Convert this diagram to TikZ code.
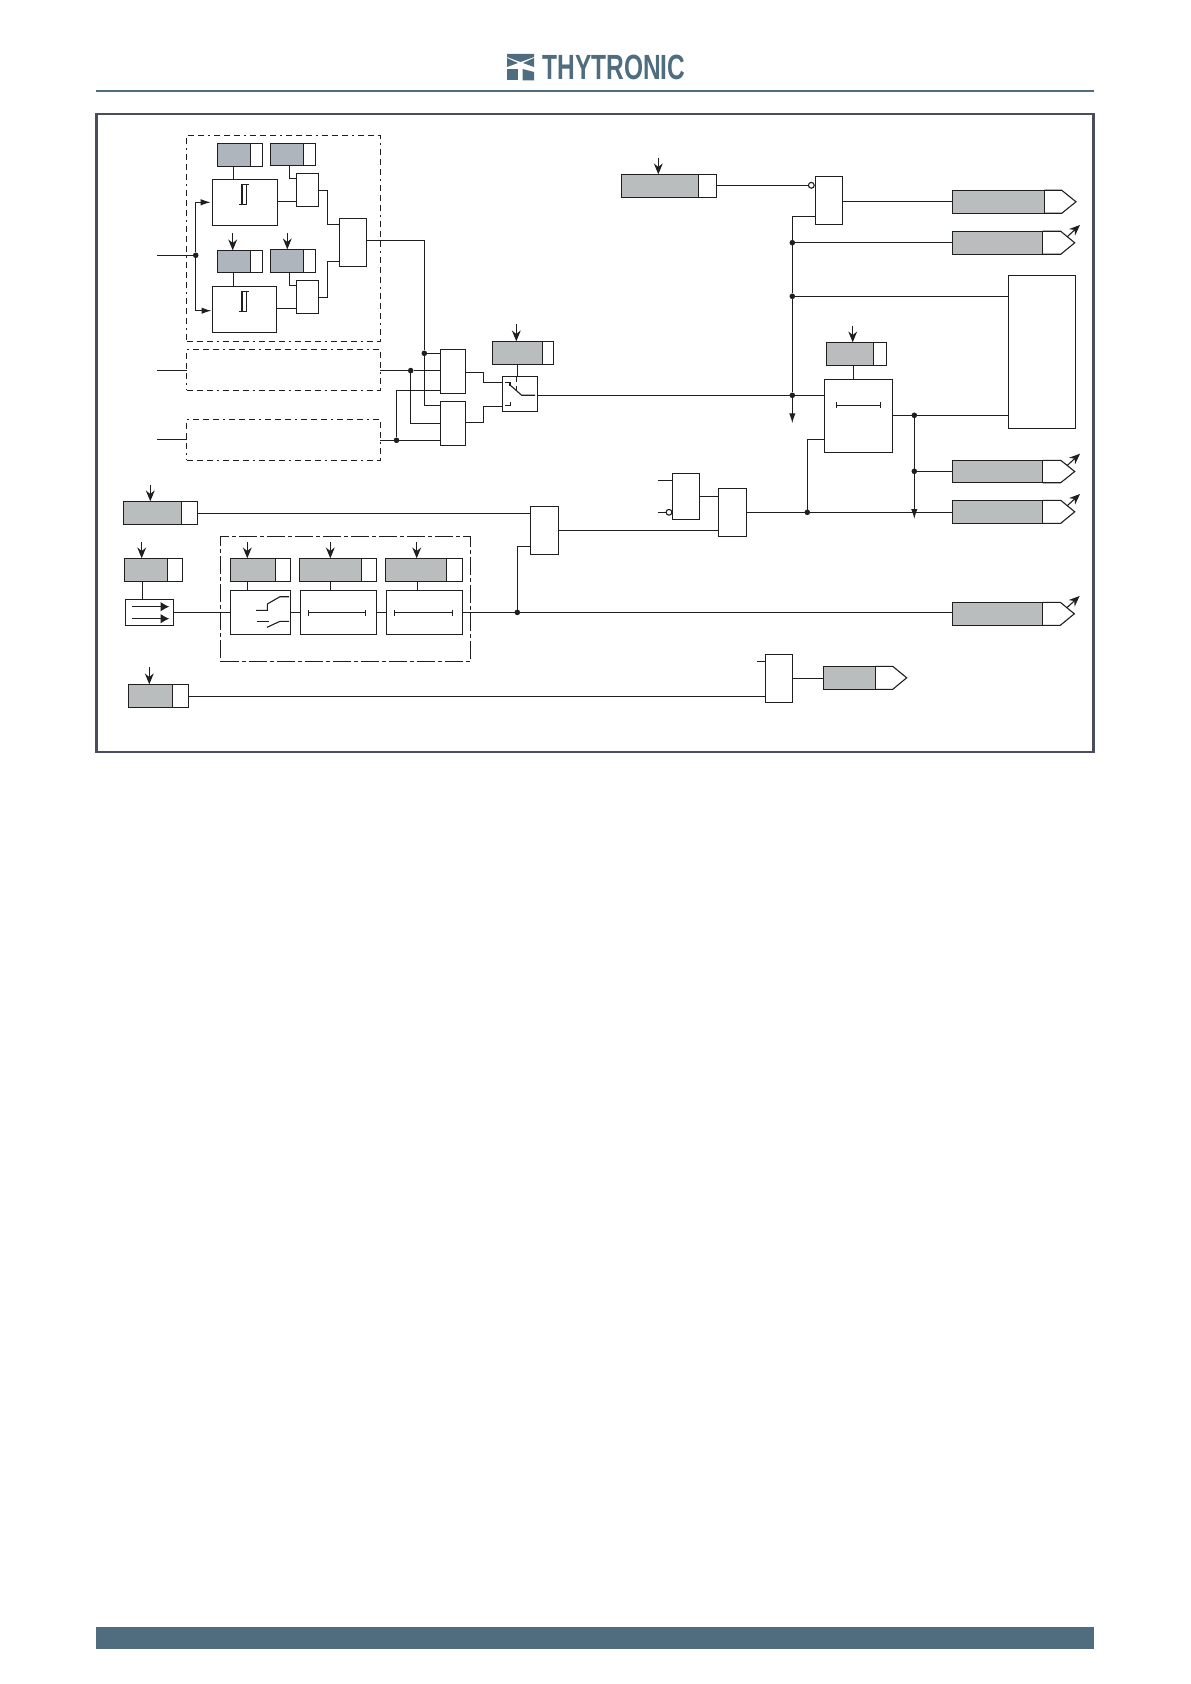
\documentclass[tikz,border=0pt]{standalone}
\usepackage{fontspec}
\usetikzlibrary{arrows.meta}
\definecolor{brand}{HTML}{4F6D7E}
\definecolor{barfill}{HTML}{B9BDBD}
\definecolor{bluefill}{HTML}{AEB5BD}
\definecolor{framecol}{HTML}{4A4D5C}
\newfontfamily\logofont{Liberation Sans}

% x1 y1 x2 y2 corners, in pixels of the page
\newcommand{\blockat}[6][block]
{
  \pgfmathsetmacro{\blockw}{(#5-#3)*0.5}
  \pgfmathsetmacro{\blockh}{(#6-#4)*0.5}
  \node[#1, minimum width=\blockw pt, minimum height=\blockh pt](#2) at ({(#3+#5)/2},{(#4+#6)/2}) {};
}
\newcommand{\setbar}[7][barfill]
{
  \blockat[block]{#2W}{#4}{#6}{#5}{#7}
  \blockat[block, fill=#1]{#2G}{#3}{#6}{#4}{#7}
}
\newcommand{\setdrive}[3]
{
  \coordinate (#1A) at (#2,#3);
  \draw[drive] (#1A) -- (#1A |- #1G.north);
}
\newcommand{\outbar}[7]
{
  \blockat[block, fill=barfill]{#1G}{#2}{#6}{#3}{#7}
  \draw (#1G.north east) -- (#4,#6) -- (#5,{(#6+#7)/2}) -- (#4,#7) -- (#1G.south east);
}
\newcommand{\outflag}[3]
{
  \coordinate (#1A) at (#2+6.6,#3+5.4);
  \coordinate (#1B) at (#2+19.3,#3-6.3);
  \draw[drive] (#1A) -- (#1B);
}
\newcommand{\timerbar}[3]
{
  \draw[{Bar[width=3pt]}-{Bar[width=3pt]}] (#1,#3) -- (#2,#3);
}
\newcommand{\hystbar}[1]
{
  \draw (241,#1) -- (249,#1);
  \draw (239.3,#1+20) -- (246.7,#1+20);
  \draw (242,#1) -- (242,#1+20);
  \draw (246.7,#1) -- (246.7,#1+20);
}

\begin{document}
\begin{tikzpicture}
    [
      x=0.5pt,
      y=-0.5pt,
      line width=0.55pt,
      color=black!88,
      block/.style=
      {
        draw,
        fill=white,
        inner sep=0pt,
        outer sep=0pt,
      },
      zone/.style=
      {
        block,
        fill=none,
        dash pattern=on 3pt off 2pt on 3pt off 2pt on 3pt off 2pt on 1pt off 2pt,
      },
      dot/.style=
      {
        circle,
        fill,
        inner sep=0pt,
        outer sep=0pt,
        minimum size=2.8pt,
      },
      neg/.style=
      {
        circle,
        draw,
        fill=white,
        inner sep=0pt,
        outer sep=0pt,
        minimum size=2.9pt,
      },
      drive/.style=
      {
        -{Stealth[length=5.4pt,width=4.4pt]},
      },
      sense/.style=
      {
        -{Latex[length=5pt,width=3.2pt]},
      },
      fast/.style=
      {
        -{Latex[length=4.4pt,width=4.8pt]},
      }
    ]
    \useasboundingbox (0,0) rectangle (1190,1684);
    \fill[white] (0,0) rectangle (1190,1684);

    %page header and footer
    \blockat[block, draw=none, fill=brand]{FootBar}{96}{1627}{1094}{1649}
    \blockat[block, draw=none, fill=brand]{HeadRule}{96}{90.2}{1094}{91.8}
    \node[inner sep=0pt, text=brand, xscale=0.7, font=\fontsize{17.5}{18}\bfseries\logofont](LogoText) at (614,67) {THYTRONIC};
    \fill[brand] (507,54) -- (534,54) -- (534,57) -- (520.5,62) -- (507,57) -- cycle;
    \fill[brand] (507,58) -- (518,63) -- (507,67) -- cycle;
    \fill[brand] (534,58) -- (523,63) -- (534,67) -- cycle;
    \fill[brand] (507,69.5) rectangle (517.5,80.5);
    \fill[brand] (522.5,69) -- (534,72) -- (534,80.5) -- (522.5,80.5) -- cycle;
    \blockat[block, fill=none, line width=1.05pt, draw=framecol]{Frame}{96.5}{114}{1093.5}{752}

    \blockat[zone]{ZoneA}{186.7}{135.3}{380.3}{341.3}
    \blockat[zone]{ZoneB}{186.7}{349.3}{380.3}{390.3}
    \blockat[zone]{ZoneC}{186.7}{419.3}{380.3}{460.3}
    \blockat[block, fill=none, dash pattern=on 9pt off 1.5pt on 2pt off 1.5pt]{ZoneD}{220.7}{536.3}{470.3}{661.3}

    %setting bars
    \setbar[bluefill]{SetA}{217.3}{250.7}{262.7}{143.3}{166.3}
    \setbar[bluefill]{SetB}{270.3}{303.3}{315.7}{143.3}{165.7}
    \setbar[bluefill]{SetC}{217.3}{250.7}{262.7}{250.3}{272.7}
    \setbar[bluefill]{SetD}{270.3}{303.3}{315.7}{249.3}{272.7}
    \setbar{SetE}{492.3}{542.3}{553.3}{341.3}{364.3}
    \setbar{SetF}{621.3}{698.3}{716.7}{174.3}{197.3}
    \setbar{SetH}{826.3}{873.3}{886.3}{342.3}{365.3}
    \setbar{SetI}{123.3}{181.3}{197.7}{501.3}{524.3}
    \setbar{SetJ}{124.3}{167.3}{182.3}{558.3}{581.3}
    \setbar{SetK}{230.3}{275.3}{290.7}{558.3}{581.3}
    \setbar{SetL}{299.3}{361.7}{376.7}{558.3}{581.3}
    \setbar{SetM}{385.3}{446.7}{462.7}{558.3}{581.3}
    \setbar{SetN}{128.3}{172.3}{188.7}{684.3}{707.3}
    \setdrive{SetC}{232.7}{233.3}
    \setdrive{SetD}{287.3}{233.3}
    \setdrive{SetE}{516.3}{324}
    \setdrive{SetF}{658.3}{157.7}
    \setdrive{SetH}{852.7}{325.7}
    \setdrive{SetI}{150.3}{485}
    \setdrive{SetJ}{141.7}{542.3}
    \setdrive{SetK}{247.3}{542.3}
    \setdrive{SetL}{330.3}{542.3}
    \setdrive{SetM}{416.7}{542.3}
    \setdrive{SetN}{149.3}{667.3}

    %blocks and gates
    \blockat{PowA}{212.3}{179.3}{277.3}{225.3}
    \blockat{PowB}{212.3}{286.3}{276.7}{332.3}
    \blockat{GateA}{296.3}{173.3}{318.7}{206.3}
    \blockat{GateB}{296.3}{280.3}{318.7}{313.3}
    \blockat{GateC}{339.3}{218.3}{366.3}{266.3}
    \blockat{GateD}{440.3}{349.3}{465.7}{393.3}
    \blockat{GateE}{440.3}{401.3}{465.7}{445.3}
    \blockat{Swap}{502.3}{376.3}{537.3}{411.3}
    \blockat{GateF}{815.3}{176.3}{842.3}{224.3}
    \blockat{Delay}{824.3}{379.3}{892.3}{452.3}
    \blockat{GateG}{672.3}{473.3}{699.7}{519.3}
    \blockat{GateH}{718.3}{488.3}{746.7}{536.3}
    \blockat{GateI}{530.3}{506.3}{558.3}{554.3}
    \blockat{GateJ}{765.3}{654.3}{792.7}{702.3}
    \blockat{Latch}{1008.3}{275.3}{1075.7}{428.3}
    \blockat{Select}{125.3}{599.3}{173.3}{625.3}
    \blockat{StepA}{230.3}{590.3}{290.7}{634.3}
    \blockat{StepB}{300.3}{590.3}{376.7}{634.3}
    \blockat{StepC}{386.3}{590.3}{462.7}{634.3}

    %outputs
    \outbar{OutA}{952.4}{1044.3}{1061.7}{1076}{190.3}{213.3}
    \outbar{OutB}{952.4}{1042.7}{1060.7}{1074.7}{231.3}{254.3}
    \outbar{OutC}{952.4}{1042.7}{1060.7}{1074.7}{460.3}{482.7}
    \outbar{OutD}{952.4}{1042.7}{1060.7}{1074.7}{500.3}{523.3}
    \outbar{OutE}{952.4}{1042.7}{1060.3}{1074.3}{602.3}{625.3}
    \outbar{OutF}{823.3}{875.3}{892.7}{906.7}{666.3}{689.3}
    \outflag{OutB}{1060.7}{231.3}
    \outflag{OutC}{1060.7}{460}
    \outflag{OutD}{1060.7}{500.3}
    \outflag{OutE}{1060.3}{602.3}

    %junctions
    \node[dot](DotIn) at (195.7,255.3) {};
    \node[dot](DotA) at (424.3,353.3) {};
    \node[dot](DotB) at (410.7,370.6) {};
    \node[dot](DotC) at (396.5,440.3) {};
    \node[dot](DotD) at (792.3,242.7) {};
    \node[dot](DotE) at (792.3,296.3) {};
    \node[dot](DotF) at (792.3,395.3) {};
    \node[dot](DotG) at (914.3,415.3) {};
    \node[dot](DotH) at (914.3,471.3) {};
    \node[dot](DotI) at (807.3,512.3) {};
    \node[dot](DotJ) at (517.3,612.4) {};
    \node[neg](NegF) at (811.3,185.3) {};
    \node[neg](NegG) at (669,512.3) {};

    %pins
    \coordinate (InA) at (157,255.3);
    \coordinate (InB) at (157,370.3);
    \coordinate (InC) at (157,439.3);
    \coordinate (PinA) at (233.6,166.3);
    \coordinate (PinCc) at (233.6,272.7);
    \coordinate (PinPowA) at (212.3,202.3);
    \coordinate (PinPowB) at (212.3,310.7);
    \coordinate (PinB) at (289.3,178.3);
    \coordinate (PinD) at (289.3,285.3);
    \coordinate (BendA) at (327.7,190.3);
    \coordinate (BendB) at (327.7,297.3);
    \coordinate (PinC) at (339.3,224.3);
    \coordinate (PinCb) at (339.3,261.3);
    \coordinate (BendC) at (424.3,240.3);
    \coordinate (BendD) at (483.3,372.3);
    \coordinate (BendE) at (483.3,422.3);
    \coordinate (PinE) at (424.3,405.3);
    \coordinate (PinEb) at (410.7,423.3);
    \coordinate (PinDb) at (396.5,390.3);
    \coordinate (PinSwapA) at (502.3,382.3);
    \coordinate (PinSwapB) at (502.3,406.7);
    \coordinate (SwapOut) at (537.3,395.3);
    \coordinate (BusDown) at (792.3,423.3);
    \coordinate (BusTop) at (792.3,216.3);
    \coordinate (PinH) at (853.3,365.3);
    \coordinate (DelayIn) at (824.3,439.3);
    \coordinate (DelayOut) at (892.3,415.3);
    \coordinate (BusEnd) at (914.3,519);
    \coordinate (StubG) at (658,480.3);
    \coordinate (StubGb) at (658,512.3);
    \coordinate (PinI) at (197.7,513.3);
    \coordinate (PinIb) at (530.3,546.3);
    \coordinate (PinGF) at (842.3,201.3);
    \coordinate (PinJ) at (142.3,581.3);
    \coordinate (PinK) at (247.3,581.3);
    \coordinate (PinM) at (417.3,581.3);
    \coordinate (PinN) at (188.7,696.3);
    \coordinate (StubJ) at (757,661.3);

    %connectors
    \draw (PinA) -- (PinA |- PowA.north);
    \draw (PinCc) -- (PinCc |- PowB.north);
    \draw (PinB |- SetBG.south) -- (PinB) -- (PinB -| GateA.west);
    \draw (PinD |- SetDG.south) -- (PinD) -- (PinD -| GateB.west);
    \draw (InA) -- (DotIn);
    \draw[sense, shorten >=0.8pt] (DotIn) |- (PinPowA);
    \draw[sense, shorten >=0.4pt] (DotIn) |- (PinPowB);
    \draw ([yshift=0.5pt]PowA.east) -- ([yshift=0.5pt]PowA.east -| GateA.west);
    \draw ([yshift=0.5pt]PowB.east) -- ([yshift=0.5pt]PowB.east -| GateB.west);
    \draw (BendA -| GateA.east) -- (BendA) -- (BendA |- PinC) -- (PinC);
    \draw (BendB -| GateB.east) -- (BendB) -- (BendB |- PinCb) -- (PinCb);
    \draw (GateC.east |- BendC) -- (BendC) -- (DotA) -- (PinE) -- (PinE -| GateE.west);
    \draw (DotA) -- (DotA -| GateD.west);
    \draw (InB) -- (InB -| ZoneB.west);
    \draw (InC) -- (InC -| ZoneC.west);
    \draw (DotB -| ZoneB.east) -- (DotB) -- (DotB -| GateD.west);
    \draw (DotB) -- (PinEb) -- (PinEb -| GateE.west);
    \draw (DotC -| ZoneC.east) -- (DotC) -- (DotC -| GateE.west);
    \draw (DotC) -- (PinDb) -- (PinDb -| GateD.west);
    \draw (BendD -| GateD.east) -- (BendD) -- (BendD |- PinSwapA) -- (PinSwapA);
    \draw (BendE -| GateE.east) -- (BendE) -- (BendE |- PinSwapB) -- (PinSwapB);
    \draw (SetEG.south) -- (SetEG.south |- Swap.north);
    \draw (SwapOut) -- (SwapOut -| Delay.west);
    \draw (NegF -| SetFW.east) -- (NegF.west);
    \draw (GateF.west |- BusTop) -- (BusTop) -- (DotD) -- (DotE) -- (DotF);
    \draw[sense] (DotF) -- (BusDown);
    \draw (DotD) -- (DotD -| OutBG.west);
    \draw (DotE) -- (DotE -| Latch.west);
    \draw (PinGF) -- (PinGF -| OutAG.west);
    \draw (PinH) -- (PinH |- Delay.north);
    \draw (DelayOut) -- (DelayOut -| Latch.west);
    \draw[sense] (DotG) -- (BusEnd);
    \draw (DotH) -- (DotH -| OutCG.west);
    \draw (DelayIn) -- (DelayIn -| DotI) -- (DotI);
    \draw (StubG) -- (StubG -| GateG.west);
    \draw (StubGb) -- (NegG.west);
    \draw (GateG.east) -- (GateG.east -| GateH.west);
    \draw (DotI -| GateH.east) -- (DotI -| OutDG.west);
    \draw (PinI) -- (PinI -| GateI.west);
    \draw (DotJ) -- (DotJ |- PinIb) -- (PinIb);
    \draw (GateI.east) -- (GateI.east -| GateH.west);
    \draw (PinJ) -- (PinJ |- Select.north);
    \draw (Select.east) -- (StepA.west);
    \draw (StepA.east) -- (StepB.west);
    \draw (StepB.east) -- (StepC.west);
    \draw (StepC.east) -- (StepC.east -| OutEG.west);
    \draw (PinK) -- (PinK |- StepA.north);
    \draw (SetLG.south) -- (SetLG.south |- StepB.north);
    \draw (PinM) -- (PinM |- StepC.north);
    \draw (PinN) -- (PinN -| GateJ.west);
    \draw (StubJ) -- (StubJ -| GateJ.west);
    \draw (GateJ.east) -- (GateJ.east -| OutFG.west);

    %symbols inside the blocks
    \hystbar{184.3}
    \hystbar{291.3}
    \draw (505.3,382.3) -- (510,382.3) -- (510,385.7);
    \draw (510,385) -- (521.7,395.3) -- (535,395.3);
    \draw (505.3,405.7) -- (510.7,405.7) -- (510.7,402.3);
    \draw[densely dashed] (516.3,376.3) -- (516.3,390);
    \draw[fast] (132,606.7) -- (169.3,606.7);
    \draw[fast] (132,618.7) -- (169.3,618.7);
    \draw (256,610.3) -- (267.3,610.3) -- (267.3,604) -- (280,596.7) -- (289,596.7);
    \draw (256.7,621.3) -- (269,621.3);
    \draw (267,627.3) -- (280,621.3) -- (289,621.3);
    \timerbar{836.3}{880.7}{405.4}
    \timerbar{308.3}{365.7}{612.6}
    \timerbar{394.3}{453.3}{612.6}
  \end{tikzpicture}
\end{document}
